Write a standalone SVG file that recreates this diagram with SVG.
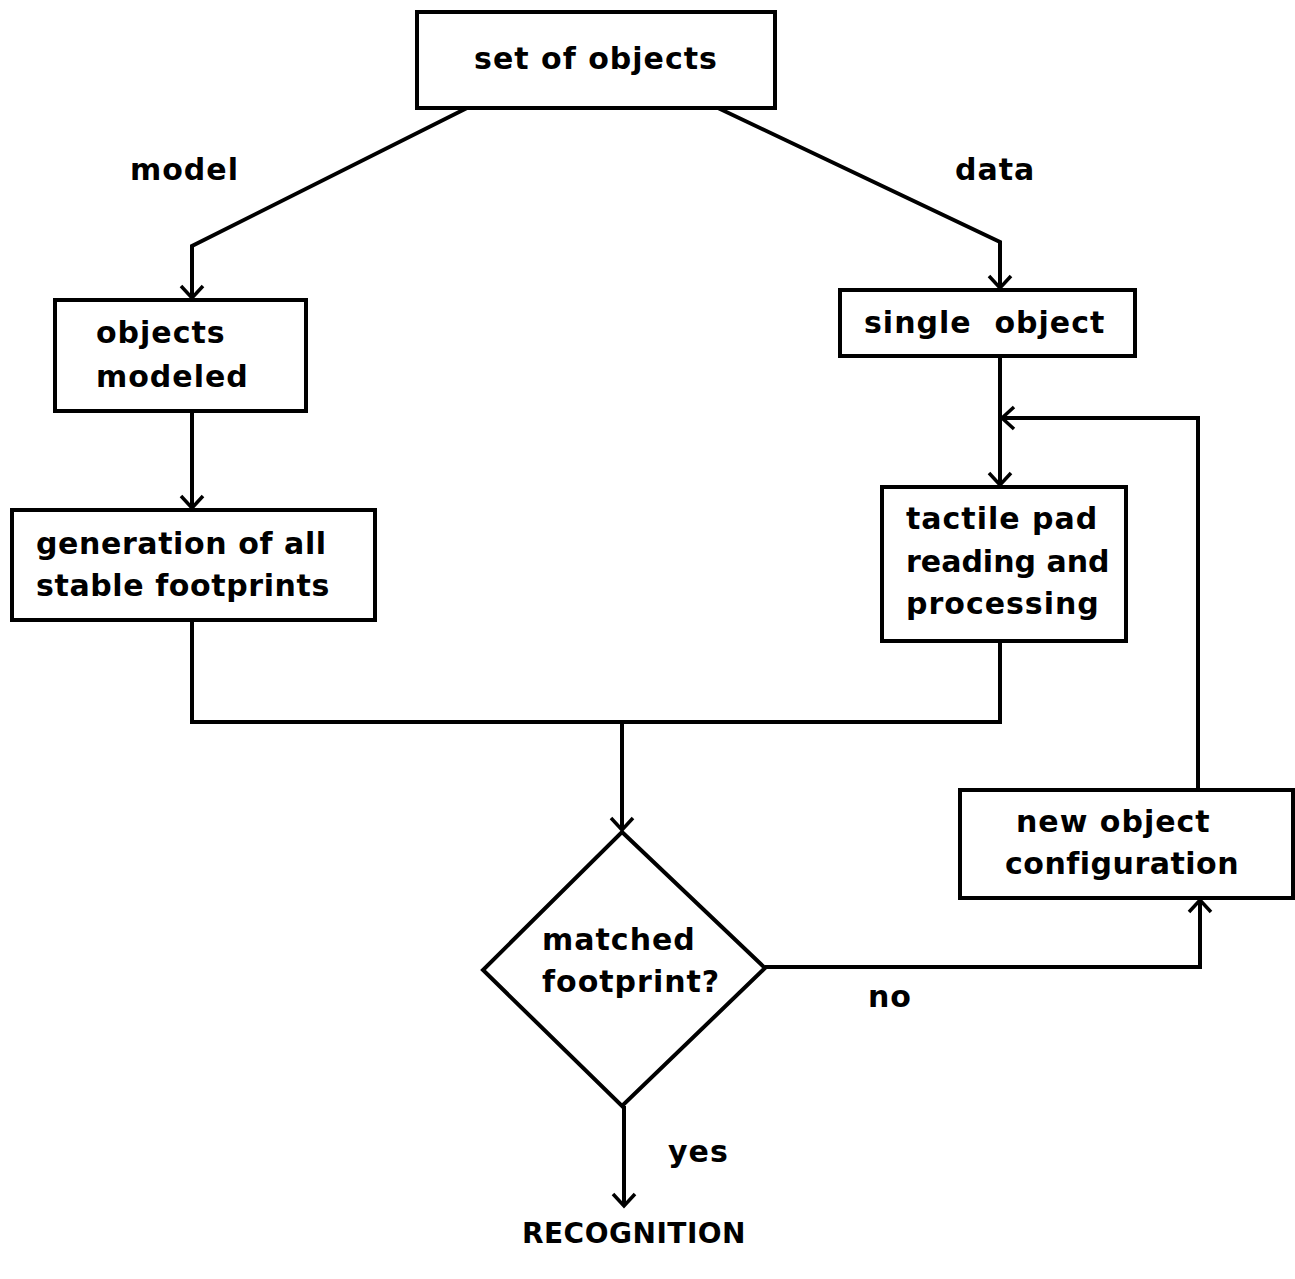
<svg xmlns="http://www.w3.org/2000/svg" width="1295" height="1279" viewBox="0 0 1295 1279">
<style>
  .box { fill: #fff; stroke: #000; stroke-width: 4; }
  .t { font-family: "DejaVu Sans", "Liberation Sans", sans-serif; font-weight: bold; font-size: 30px; fill: #000; letter-spacing: 1px; }
  .c { fill: none; stroke: #000; stroke-width: 4; stroke-linejoin: miter; }
</style>
<defs>
  <marker id="ah" markerUnits="userSpaceOnUse" markerWidth="26" markerHeight="26" viewBox="-14 -13 16 26" refX="0" refY="0" orient="auto">
    <path d="M-12,-11 L0,0 L-12,11" fill="none" stroke="#000" stroke-width="3.5"/>
  </marker>
</defs>
<rect width="1295" height="1279" fill="#fff"/>

<g id="connectors">
  <polyline class="c" points="467,108 192,246 192,298" marker-end="url(#ah)"/>
  <polyline class="c" points="718,108 1000,242 1000,288" marker-end="url(#ah)"/>
  <line class="c" x1="192" y1="411" x2="192" y2="508" marker-end="url(#ah)"/>
  <line class="c" x1="1000" y1="356" x2="1000" y2="485" marker-end="url(#ah)"/>
  <polyline class="c" points="192,620 192,722 1000,722 1000,641"/>
  <line class="c" x1="622" y1="722" x2="622" y2="830" marker-end="url(#ah)"/>
  <polyline class="c" points="765,967 1200,967 1200,900" marker-end="url(#ah)"/>
  <polyline class="c" points="1198,790 1198,418 1002,418" marker-end="url(#ah)"/>
  <line class="c" x1="624" y1="1106" x2="624" y2="1206" marker-end="url(#ah)"/>
</g>

<g id="n-set">
  <rect class="box" x="417" y="12" width="358" height="96"/>
  <text class="t" x="596" y="69" text-anchor="middle">set of objects</text>
</g>
<g id="lbl-model"><text class="t" x="130" y="180">model</text></g>
<g id="lbl-data"><text class="t" x="955" y="180">data</text></g>

<g id="n-modeled">
  <rect class="box" x="55" y="300" width="251" height="111"/>
  <text class="t" x="96" y="343">objects</text>
  <text class="t" x="96" y="387">modeled</text>
</g>
<g id="n-generation">
  <rect class="box" x="12" y="510" width="363" height="110"/>
  <text class="t" x="36" y="554" style="letter-spacing:0.6px">generation of all</text>
  <text class="t" x="36" y="596" style="letter-spacing:0.6px">stable footprints</text>
</g>
<g id="n-single">
  <rect class="box" x="840" y="290" width="295" height="66"/>
  <text class="t" x="864" y="333" xml:space="preserve">single  object</text>
</g>
<g id="n-tactile">
  <rect class="box" x="882" y="487" width="244" height="154"/>
  <text class="t" x="906" y="529">tactile pad</text>
  <text class="t" x="906" y="572" style="letter-spacing:0px">reading and</text>
  <text class="t" x="906" y="614">processing</text>
</g>
<g id="n-newconf">
  <rect class="box" x="960" y="790" width="333" height="108"/>
  <text class="t" x="1016" y="832">new object</text>
  <text class="t" x="1005" y="874" style="letter-spacing:0.5px">configuration</text>
</g>
<g id="n-matched">
  <polygon class="box" points="622,832 765,968 622,1106 483,970"/>
  <text class="t" x="542" y="950">matched</text>
  <text class="t" x="542" y="992">footprint?</text>
</g>
<g id="lbl-no"><text class="t" x="868" y="1007">no</text></g>
<g id="lbl-yes"><text class="t" x="668" y="1162">yes</text></g>
<g id="n-recognition"><text class="t" x="634" y="1243" text-anchor="middle" style="font-size:28px;letter-spacing:0.5px">RECOGNITION</text></g>
</svg>
